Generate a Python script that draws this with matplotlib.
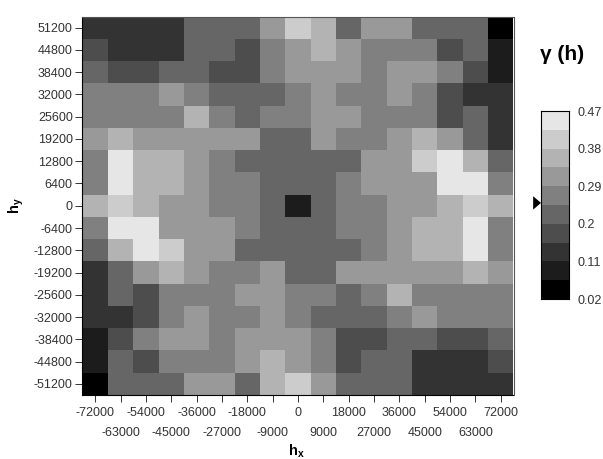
import numpy as np
import matplotlib
matplotlib.use('Agg')
import matplotlib.pyplot as plt
from matplotlib.colors import ListedColormap, BoundaryNorm

plt.rcParams['font.family'] = ['Liberation Sans', 'DejaVu Sans']
plt.rcParams['mathtext.fontset'] = 'custom'
plt.rcParams['mathtext.bf'] = 'Liberation Sans:bold'

# lag axes
hx = np.arange(-72000, 72001, 9000)
hy = np.arange(51200, -51201, -6400)

# class number of each cell, first row is hy = 51200
clases = [
    [2, 2, 2, 2, 4, 4, 4, 6, 8, 7, 4, 6, 6, 4, 4, 4, 0],
    [3, 2, 2, 2, 4, 4, 3, 5, 6, 7, 6, 5, 5, 5, 3, 4, 1],
    [4, 3, 3, 4, 4, 3, 3, 5, 6, 6, 6, 5, 6, 6, 5, 3, 1],
    [5, 5, 5, 6, 5, 4, 4, 4, 5, 6, 5, 5, 6, 5, 3, 2, 2],
    [5, 5, 5, 5, 7, 5, 4, 5, 5, 6, 6, 5, 5, 5, 3, 4, 2],
    [6, 7, 6, 6, 6, 6, 6, 4, 4, 6, 5, 5, 6, 7, 6, 4, 2],
    [5, 9, 7, 7, 6, 5, 4, 4, 4, 4, 4, 6, 6, 8, 9, 7, 4],
    [5, 9, 7, 7, 6, 5, 5, 4, 4, 4, 5, 6, 6, 6, 9, 9, 5],
    [7, 8, 7, 6, 6, 5, 5, 4, 1, 4, 5, 5, 6, 6, 7, 8, 7],
    [5, 9, 9, 6, 6, 6, 5, 4, 4, 4, 5, 5, 6, 7, 7, 9, 5],
    [4, 7, 9, 8, 6, 6, 4, 4, 4, 4, 4, 5, 6, 7, 7, 9, 5],
    [2, 4, 6, 7, 6, 5, 5, 6, 4, 4, 6, 6, 6, 6, 6, 7, 6],
    [2, 4, 3, 5, 5, 5, 6, 6, 5, 5, 4, 5, 7, 5, 5, 5, 5],
    [2, 2, 3, 5, 6, 5, 5, 6, 5, 4, 4, 4, 5, 6, 5, 5, 5],
    [1, 3, 5, 6, 6, 5, 6, 6, 6, 5, 3, 3, 4, 4, 3, 3, 4],
    [1, 4, 3, 5, 5, 5, 6, 7, 6, 5, 3, 4, 4, 2, 2, 2, 3],
    [0, 4, 4, 4, 6, 6, 4, 7, 8, 6, 4, 4, 4, 2, 2, 2, 2],
]

# legend classes
limites = np.linspace(0.02, 0.47, 11)
etiquetas = ['0.02', '0.11', '0.2', '0.29', '0.38', '0.47']
grises = ['#000000', '#1c1c1c', '#333333', '#4d4d4d', '#666666',
          '#808080', '#999999', '#b3b3b3', '#cccccc', '#e6e6e6']
valor_marca = 0.25

W, H = 603, 459
cmap = ListedColormap(grises)
norm = BoundaryNorm(limites, cmap.N)
gamma = limites[0] + (np.array(clases) + 0.5) * (limites[1] - limites[0])

fig = plt.figure(figsize=(W / 100, H / 100), dpi=100)


def caja(x0, y0, x1, y1):
    return fig.add_axes([x0 / W, 1 - y1 / H, (x1 - x0) / W, (y1 - y0) / H])


# mapa principal
ax = caja(82.5, 16.5, 513.5, 395)
ax.pcolormesh(hx, hy, gamma, cmap=cmap, norm=norm, shading='nearest')
ax.set_xlim(hx[0] - 4500, hx[-1] + 4500)
ax.set_ylim(hy[-1] - 3200, hy[0] + 3200)
for s in ['top', 'right']:
    ax.spines[s].set_color('#555555')
for s in ax.spines.values():
    s.set_linewidth(0.8)

ax.set_xticks(hx[::2])
ax.set_xticks(hx[1::2], minor=True)
ax.set_xticklabels([str(v) for v in hx[::2]], fontsize=9)
ax.set_xticklabels([str(v) for v in hx[1::2]], minor=True, fontsize=9)
ax.tick_params(axis='x', which='major', length=5, width=0.7, pad=4, colors='#333333')
ax.tick_params(axis='x', which='minor', length=5, width=0.7, pad=18, colors='#333333')
ax.set_yticks(hy)
ax.set_yticklabels([str(v) for v in hy], fontsize=9)
ax.tick_params(axis='y', length=5, width=0.7, pad=2, colors='#333333')

fig.text(296 / W, 1 - 451 / H, r'$\mathbf{h_x}$', fontsize=10.5, ha='center', va='center')
fig.text(16 / W, 1 - 206 / H, r'$\mathbf{h_y}$', fontsize=10.5, ha='center', va='center',
         rotation=90)

# leyenda de grises
cax = caja(541, 111, 569, 299)
cax.pcolormesh([0, 1], limites, np.array(limites[:-1] + 0.0225).reshape(-1, 1),
               cmap=cmap, norm=norm, shading='flat')
cax.set_xticks([])
cax.set_ylim(limites[0], limites[-1])
cax.yaxis.tick_right()
cax.set_yticks(limites[::2])
cax.set_yticklabels(etiquetas, fontsize=9)
cax.tick_params(axis='y', length=0, pad=6, colors='#333333')
for s in cax.spines.values():
    s.set_linewidth(0.8)
# marca del valor sobre la escala
cax.fill([-0.28, 0, -0.28], [valor_marca - 0.016, valor_marca, valor_marca + 0.016],
         color='black', lw=0, clip_on=False, transform=cax.get_yaxis_transform())

fig.text(562 / W, 1 - 55 / H, '\u03b3 (h)', fontsize=15, fontweight='bold', ha='center', va='center')

fig.savefig('out.png', dpi=100)
